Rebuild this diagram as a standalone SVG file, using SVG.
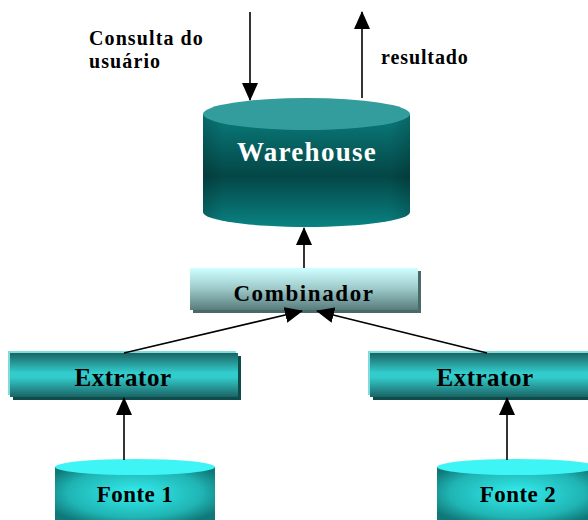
<svg xmlns="http://www.w3.org/2000/svg" width="588" height="520" viewBox="0 0 588 520">
<style>
.lbl{font-family:"Liberation Serif","Times New Roman",serif;font-weight:bold;}
.conn line{stroke:#000;stroke-width:1.6;}
</style>
<defs>
<marker id="ah" markerWidth="18" markerHeight="16" refX="17" refY="8" orient="auto" markerUnits="userSpaceOnUse" viewBox="0 0 18 16">
<path d="M0,0 L18,8 L0,16 Z" fill="#000"/>
</marker>
<linearGradient id="whBody" x1="0" y1="0" x2="0" y2="1">
<stop offset="0" stop-color="#0a7c7c"/>
<stop offset="0.55" stop-color="#044646"/>
<stop offset="1" stop-color="#0a8282"/>
</linearGradient>
<linearGradient id="whSide" x1="0" y1="0" x2="1" y2="0">
<stop offset="0" stop-color="#000" stop-opacity="0.15"/>
<stop offset="0.1" stop-color="#000" stop-opacity="0"/>
<stop offset="0.9" stop-color="#000" stop-opacity="0"/>
<stop offset="1" stop-color="#000" stop-opacity="0.15"/>
</linearGradient>
<linearGradient id="comb" x1="0" y1="0" x2="0" y2="1">
<stop offset="0" stop-color="#d0ffff"/>
<stop offset="0.5" stop-color="#9cc8c8"/>
<stop offset="1" stop-color="#587c7c"/>
</linearGradient>
<linearGradient id="ext" x1="0" y1="0" x2="0" y2="1">
<stop offset="0" stop-color="#1a6464"/>
<stop offset="0.45" stop-color="#33cccc"/>
<stop offset="0.55" stop-color="#33cccc"/>
<stop offset="1" stop-color="#1a6464"/>
</linearGradient>
<radialGradient id="fonte" cx="0.5" cy="0.45" r="0.6">
<stop offset="0" stop-color="#33eeee"/>
<stop offset="0.7" stop-color="#20b4b4"/>
<stop offset="1" stop-color="#107878"/>
</radialGradient>
</defs>

<g id="label-consulta" class="lbl" font-size="20" letter-spacing="1.1">
<text x="89" y="45">Consulta do</text>
<text x="89" y="68">usuário</text>
</g>
<g id="label-resultado" class="lbl" font-size="20" letter-spacing="0.9">
<text x="381" y="64">resultado</text>
</g>

<g id="warehouse">
<path d="M203,114 L203,212 A103.5,15 0 0 0 410,212 L410,114 Z" fill="url(#whBody)"/>
<path d="M203,114 L203,212 A103.5,15 0 0 0 410,212 L410,114 Z" fill="url(#whSide)"/>
<ellipse cx="306.5" cy="114" rx="103.5" ry="16" fill="#339c9c"/>
<text class="lbl" x="307" y="161" font-size="27" fill="#fff" text-anchor="middle" letter-spacing="1.3">Warehouse</text>
</g>

<g id="combinador">
<rect x="193" y="271" width="228" height="42" fill="#4a6a6a"/>
<rect x="190" y="268" width="228" height="42" fill="url(#comb)"/>
<text class="lbl" x="304" y="301" font-size="23" fill="#000" text-anchor="middle" letter-spacing="1.6">Combinador</text>
</g>

<g id="extrator1">
<rect x="13" y="356" width="228" height="44" fill="#0e4c4c"/>
<rect x="8" y="351" width="228" height="44" fill="#80dcdc"/>
<rect x="10" y="353" width="228" height="44" fill="url(#ext)"/>
<text class="lbl" x="123" y="386" font-size="25" fill="#000" text-anchor="middle" letter-spacing="0.5">Extrator</text>
</g>

<g id="extrator2">
<rect x="373" y="356" width="220" height="44" fill="#0e4c4c"/>
<rect x="368" y="351" width="222" height="44" fill="#80dcdc"/>
<rect x="370" y="353" width="222" height="44" fill="url(#ext)"/>
<text class="lbl" x="485" y="386" font-size="25" fill="#000" text-anchor="middle" letter-spacing="0.5">Extrator</text>
</g>

<g id="fonte1">
<path d="M55,467 L55,525 L215,525 L215,467 Z" fill="url(#fonte)"/>
<ellipse cx="135" cy="467" rx="80" ry="8" fill="#3ff4f4"/>
<text class="lbl" x="135" y="502" font-size="23" fill="#000" text-anchor="middle" letter-spacing="0.4">Fonte 1</text>
</g>

<g id="fonte2">
<path d="M437,467 L437,525 L597,525 L597,467 Z" fill="url(#fonte)"/>
<ellipse cx="517" cy="467" rx="80" ry="8" fill="#3ff4f4"/>
<text class="lbl" x="518" y="502" font-size="23" fill="#000" text-anchor="middle" letter-spacing="0.4">Fonte 2</text>
</g>

<g id="connectors" class="conn">
<line x1="250" y1="12" x2="250" y2="100" marker-end="url(#ah)"/>
<line x1="362" y1="98" x2="362" y2="12" marker-end="url(#ah)"/>
<line x1="304" y1="268" x2="304" y2="228" marker-end="url(#ah)"/>
<line x1="124" y1="353" x2="302" y2="311" marker-end="url(#ah)"/>
<line x1="487" y1="353" x2="317" y2="311" marker-end="url(#ah)"/>
<line x1="124" y1="460" x2="124" y2="398" marker-end="url(#ah)"/>
<line x1="507" y1="460" x2="507" y2="398" marker-end="url(#ah)"/>
</g>
</svg>
